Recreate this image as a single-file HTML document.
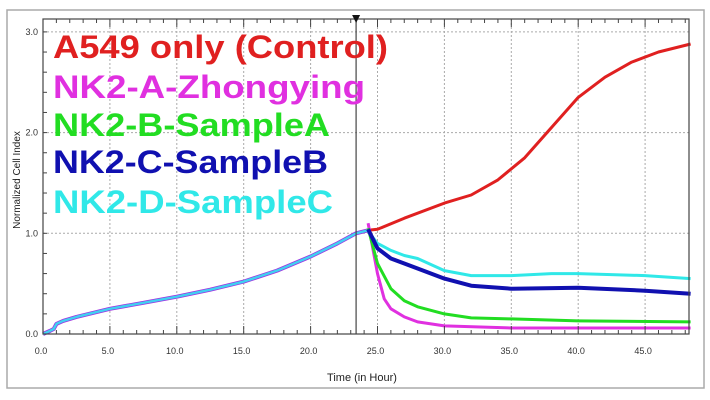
<!DOCTYPE html>
<html><head><meta charset="utf-8"><style>
html,body{margin:0;padding:0;background:#fff;}
svg{display:block;font-family:"Liberation Sans",sans-serif;}
</style></head><body>
<svg id="chart" width="710" height="400">
<rect x="7" y="10" width="697" height="378" fill="#fff" stroke="#aaa" stroke-width="1.5"/>
<g id="grid"></g>
<g id="series"></g>
<rect x="43" y="19" width="646" height="315" fill="none" stroke="#444" stroke-width="1.2"/>
<g id="axes"></g>
<text x="362" y="381" font-size="11" text-anchor="middle" fill="#222">Time (in Hour)</text>
<text transform="translate(20,180) rotate(-90)" font-size="10" text-anchor="middle" fill="#222">Normalized Cell Index</text>
<g font-weight="bold" font-size="32">
<text x="53" y="58" fill="#e02020" textLength="335" lengthAdjust="spacingAndGlyphs">A549 only (Control)</text>
<text x="53" y="98" fill="#e030e0" textLength="312" lengthAdjust="spacingAndGlyphs">NK2-A-Zhongying</text>
<text x="53" y="136" fill="#22dd22" textLength="277" lengthAdjust="spacingAndGlyphs">NK2-B-SampleA</text>
<text x="53" y="173" fill="#1010b0" textLength="275" lengthAdjust="spacingAndGlyphs">NK2-C-SampleB</text>
<text x="53" y="213" fill="#30e8e8" textLength="280" lengthAdjust="spacingAndGlyphs">NK2-D-SampleC</text>
</g>
</svg>
<script>
const commonT=[0,0.5,0.8,1,1.5,2.5,5,7.5,10,12.5,15,17.5,20,22,23.4,24.3];
const commonV=[0,0.03,0.05,0.1,0.13,0.17,0.25,0.31,0.37,0.44,0.52,0.63,0.77,0.9,1.0,1.03];
const redT=[24.3,25,27,30,32,34,36,38,40,42,44,46,48.4];
const redV=[1.03,1.04,1.15,1.3,1.38,1.53,1.75,2.05,2.35,2.55,2.7,2.8,2.88];
const magT=[24.3,25,25.5,26,27,28,30,35,40,48.4];
const magV=[1.1,0.6,0.35,0.25,0.17,0.12,0.08,0.06,0.06,0.06];
const grnT=[24.3,25,26,27,28,30,32,35,40,48.4];
const grnV=[1.05,0.7,0.45,0.33,0.27,0.2,0.16,0.15,0.13,0.12];
const bluT=[24.3,25,26,27,28,30,32,35,40,45,48.4];
const bluV=[1.04,0.85,0.75,0.7,0.65,0.55,0.48,0.45,0.46,0.43,0.4];
const cyaT=[24.3,25,26,27,28,30,32,35,38,40,45,48.4];
const cyaV=[1.02,0.9,0.83,0.78,0.75,0.63,0.58,0.58,0.6,0.6,0.58,0.55];
const xTicks=[0,5,10,15,20,25,30,35,40,45];
const yTicks=[0,1,2,3];
const NS='http://www.w3.org/2000/svg';
const X=t=>43+t*13.38, Y=v=>334-v*100.7;
function mk(tag,parent,attrs){const e=document.createElementNS(NS,tag);for(const k in attrs)e.setAttribute(k,attrs[k]);document.getElementById(parent).appendChild(e);return e;}
xTicks.forEach(t=>{
 if(t>0){const g=mk('line','grid',{x1:X(t),x2:X(t),y1:19,y2:334,stroke:'#aaa','stroke-dasharray':'2,2'});
 
 }
 const l=mk('text','axes',{x:X(t)-2,y:354,'font-size':9,'text-anchor':'middle',fill:'#333'});l.textContent=t.toFixed(1);
 
 
});
yTicks.forEach(v=>{
 if(v>0){const g=mk('line','grid',{x1:43,x2:689,y1:Y(v),y2:Y(v),stroke:'#aaa','stroke-dasharray':'2,2'});
 
 }
 const l=mk('text','axes',{x:38,y:Y(v)+3,'font-size':9,'text-anchor':'end',fill:'#333'});l.textContent=v.toFixed(1);
 
 
});
for(let t=0;t<=48;t++){const m=mk('line','axes',{x1:X(t),x2:X(t),y1:334,y2:t%5?330:326,stroke:'#444'});
 
 
 const m2=mk('line','axes',{x1:X(t),x2:X(t),y1:19,y2:t%5?23:27,stroke:'#444'});
 
 }
for(let v=0;v<=3.05;v+=0.2){const m=mk('line','axes',{x1:43,x2:47,y1:Y(v),y2:Y(v),stroke:'#444'});
 
 }
const pts=(T,V)=>T.map((t,i)=>X(t).toFixed(1)+','+Y(V[i]).toFixed(1)).join(' ');
function line(T,V,c,w,name){const p=mk('polyline','series',{points:pts(T,V),fill:'none',stroke:c,'stroke-width':w,'stroke-linejoin':'round'});
 
 }
line(commonT,commonV,'#a030e0',4,'series-common-magenta');
line(commonT,commonV,'#40d0f0',2.5,'series-common-cyan');
line(redT,redV,'#e02020',3,'series-control');
line(magT,magV,'#e030e0',3,'series-zhongying');
line(grnT,grnV,'#22dd22',3,'series-samplea');
line(cyaT,cyaV,'#30e8e8',3,'series-samplec');
line(bluT,bluV,'#1010b0',4,'series-sampleb');
const vl=mk('line','series',{x1:X(23.4),x2:X(23.4),y1:19,y2:334,stroke:'#444','stroke-width':1.2});


const tri=mk('polygon','axes',{points:`${X(23.4)-4},15 ${X(23.4)+4},15 ${X(23.4)},23`,fill:'#111'});


</script>
</body></html>
